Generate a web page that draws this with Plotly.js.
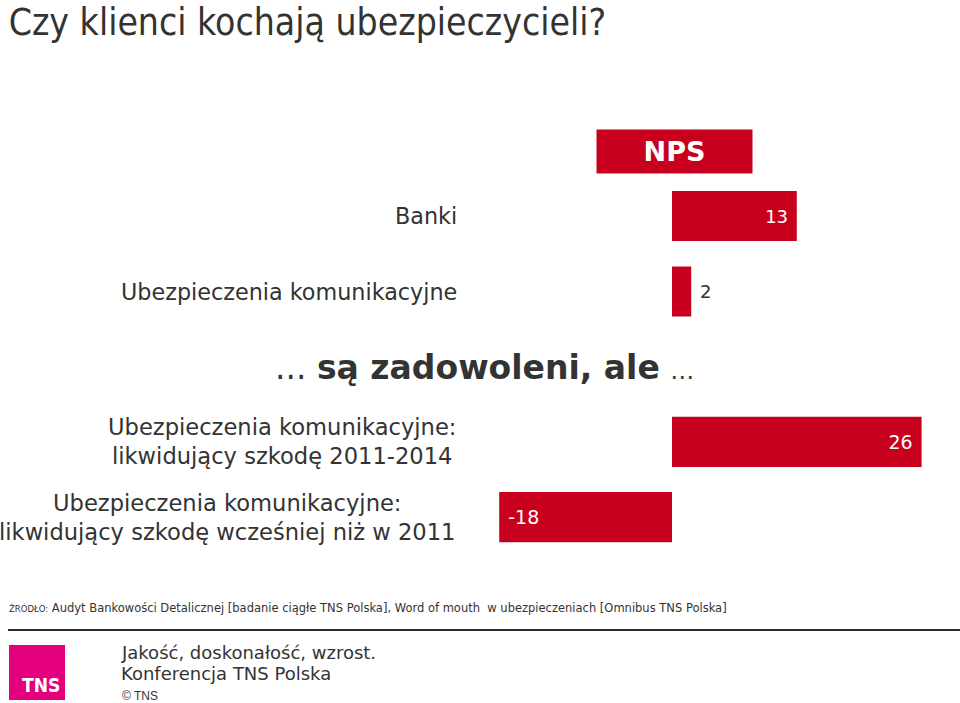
<!DOCTYPE html>
<html>
<head>
<meta charset="utf-8">
<script src="https://cdn.plot.ly/plotly-3.0.1.min.js"></script>
<style>
  html, body { margin: 0; padding: 0; background: #fff; }
  #chart { width: 960px; height: 703px; }
</style>
</head>
<body>
<div id="chart"></div>
<script>
// NPS - top group
var topLabels = ['Banki', 'Ubezpieczenia komunikacyjne'];
var topValues = [13, 2];

// ... są zadowoleni, ale ... - bottom group
var bottomLabels = [
    'Ubezpieczenia komunikacyjne:<br>likwidujący szkodę 2011-2014',
    'Ubezpieczenia komunikacyjne:<br>likwidujący szkodę wcześniej niż w 2011'
];
var bottomValues = [26, -18];

var red = '#C8001E';
var dark = '#333333';
var font = 'DejaVu Sans, Verdana, sans-serif';
var nb = '\u00a0';

// pixel -> paper helpers (plot area starts at x=480, full height)
function px(x) { return (x - 480) / 480; }
function py(y) { return 1 - y / 703; }

// a little extra padding around the value labels
function padded(v, inside) {
    if (!inside) return nb + v;
    return v < 0 ? nb + v : v + nb;
}

var trace1 = {
    type: 'bar',
    orientation: 'h',
    y: topLabels,
    x: topValues,
    xaxis: 'x',
    yaxis: 'y',
    marker: {color: red},
    text: [padded(topValues[0], true), padded(topValues[1], false)],
    textposition: ['inside', 'outside'],
    insidetextanchor: 'end',
    insidetextfont: {family: font, size: 18, color: '#ffffff'},
    outsidetextfont: {family: font, size: 18, color: dark},
    cliponaxis: false,
    hoverinfo: 'none'
};

var trace2 = {
    type: 'bar',
    orientation: 'h',
    y: bottomLabels,
    x: bottomValues,
    xaxis: 'x',
    yaxis: 'y2',
    marker: {color: red},
    text: bottomValues.map(function (v) { return padded(v, true); }),
    textposition: 'inside',
    insidetextanchor: 'end',
    insidetextfont: {family: font, size: 19, color: '#ffffff'},
    cliponaxis: false,
    hoverinfo: 'none'
};

var annotations = [];

// category labels
topLabels.forEach(function (lab) {
    annotations.push({
        xref: 'paper', yref: 'y', x: 0, y: lab,
        xanchor: 'right', yanchor: 'middle', xshift: -21,
        text: lab, showarrow: false, align: 'center',
        font: {family: font, size: 22.3, color: dark}
    });
});
bottomLabels.forEach(function (lab) {
    annotations.push({
        xref: 'paper', yref: 'y2', x: 0, y: lab,
        xanchor: 'right', yanchor: 'middle', xshift: -22,
        text: lab, showarrow: false, align: 'center',
        font: {family: font, size: 22.6, color: dark}
    });
});

// NPS box
annotations.push({
    xref: 'x', yref: 'paper', x: 0.3, y: py(151.5),
    xanchor: 'center', yanchor: 'middle',
    text: '<b>NPS</b>', showarrow: false,
    width: 155, height: 43, bgcolor: red, borderpad: 0,
    font: {family: font, size: 27, color: '#ffffff'}
});

// section heading
annotations.push({
    xref: 'paper', yref: 'paper', x: px(484), y: py(367),
    xanchor: 'center', yanchor: 'middle',
    text: '... <b>są zadowoleni, ale</b> <span style="font-size:24px">…</span>', showarrow: false,
    font: {family: font, size: 33, color: dark}
});

// source
annotations.push({
    xref: 'paper', yref: 'paper', x: px(7), y: py(608),
    xanchor: 'left', yanchor: 'middle',
    text: '<span style="font-size:8.5px">ŹRÓDŁO:</span> Audyt Bankowości Detalicznej [badanie ciągłe TNS Polska], Word of mouth  w ubezpieczeniach [Omnibus TNS Polska]',
    showarrow: false,
    font: {family: font, size: 11.5, color: dark}
});

// footer
annotations.push({
    xref: 'paper', yref: 'paper', x: px(62), y: py(698),
    xanchor: 'right', yanchor: 'bottom',
    text: '<b>TNS</b>', showarrow: false,
    font: {family: 'DejaVu Sans Condensed, sans-serif', size: 19, color: '#ffffff'}
});
annotations.push({
    xref: 'paper', yref: 'paper', x: px(119), y: py(652),
    xanchor: 'left', yanchor: 'middle',
    text: 'Jakość, doskonałość, wzrost.', showarrow: false,
    font: {family: font, size: 18, color: dark}
});
annotations.push({
    xref: 'paper', yref: 'paper', x: px(119), y: py(673),
    xanchor: 'left', yanchor: 'middle',
    text: 'Konferencja TNS Polska', showarrow: false,
    font: {family: font, size: 18, color: dark}
});
annotations.push({
    xref: 'paper', yref: 'paper', x: px(120), y: py(696),
    xanchor: 'left', yanchor: 'middle',
    text: '© TNS', showarrow: false,
    font: {family: 'Liberation Sans, Arial, sans-serif', size: 12, color: dark}
});

var hidden = {
    showgrid: false, zeroline: false, showticklabels: false,
    showline: false, ticks: '', fixedrange: true
};

var layout = {
    width: 960,
    height: 703,
    margin: {l: 480, r: 0, t: 0, b: 0},
    paper_bgcolor: '#ffffff',
    plot_bgcolor: '#ffffff',
    showlegend: false,
    bargap: 0.335,
    title: {
        text: 'Czy klienci kochają ubezpieczycieli?',
        xref: 'container', yref: 'container',
        x: 0.009, xanchor: 'left', y: py(22), yanchor: 'middle',
        font: {family: 'DejaVu Sans Condensed, sans-serif', size: 37, color: dark}
    },
    xaxis: Object.assign({range: [-20, 30]}, hidden),
    yaxis: Object.assign({domain: [py(329.25), py(178.25)], autorange: 'reversed', anchor: 'x'}, hidden),
    yaxis2: Object.assign({domain: [py(554.75), py(404.25)], autorange: 'reversed', anchor: 'x'}, hidden),
    annotations: annotations,
    shapes: [
        {
            type: 'line', xref: 'paper', yref: 'paper',
            x0: px(8), x1: 1, y0: py(630), y1: py(630),
            line: {color: '#2a2a2a', width: 2}
        },
        {
            type: 'rect', xref: 'paper', yref: 'paper',
            x0: px(9), x1: px(65), y0: py(700), y1: py(645),
            fillcolor: '#E4007C', line: {width: 0}, layer: 'below'
        }
    ]
};

Plotly.newPlot('chart', [trace1, trace2], layout, {displayModeBar: false, staticPlot: true});
</script>
</body>
</html>
